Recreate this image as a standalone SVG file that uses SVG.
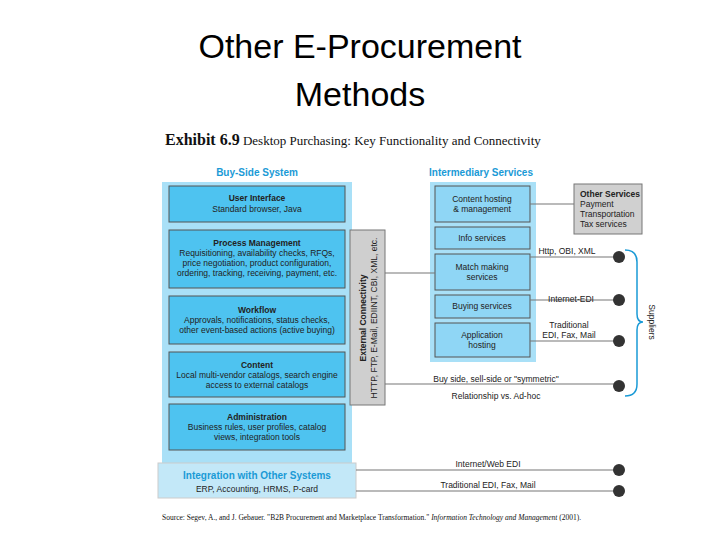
<svg xmlns="http://www.w3.org/2000/svg" width="720" height="540" viewBox="0 0 720 540">
<style>
.t{font-family:"Liberation Sans",Arial,sans-serif;font-size:8.5px;fill:#222;text-anchor:middle}
.b{font-weight:bold}
.h{font-family:"Liberation Sans",Arial,sans-serif;font-size:10px;font-weight:bold;fill:#1a9ad6;text-anchor:middle}
.box{fill:#4ec3f0;stroke:#555;stroke-width:1}
.ibox{fill:#8fd6f5;stroke:#555;stroke-width:1}
.ln{stroke:#777;stroke-width:1.2;fill:none}
.dot{fill:#333}
</style>
<rect width="720" height="540" fill="#fff"/>
<text x="360" y="58" font-family="Liberation Sans,Arial,sans-serif" font-size="34" text-anchor="middle" fill="#000">Other E-Procurement</text>
<text x="360" y="106" font-family="Liberation Sans,Arial,sans-serif" font-size="34" text-anchor="middle" fill="#000">Methods</text>
<text x="165" y="145" font-family="Liberation Serif,serif" font-size="16" fill="#111"><tspan font-weight="bold">Exhibit 6.9</tspan><tspan font-size="13"> Desktop Purchasing: Key Functionality and Connectivity</tspan></text>
<g id="buyside">
<text class="h" x="257" y="176">Buy-Side System</text>
<rect x="162" y="182" width="190" height="282" fill="#a9e0f7"/>
</g>
<g id="extconn">
<rect x="350" y="230" width="35" height="175" fill="#cfcfcf" stroke="#777"/>
<text class="t b" transform="translate(366,318) rotate(-90)">External Connectivity</text>
<text class="t" transform="translate(377,318) rotate(-90)">HTTP, FTP, E-Mail, EDIINT, CBI, XML, etc.</text>
</g>
<g id="ui"><rect class="box" x="169" y="186" width="176" height="36"/>
<text class="t b" x="257" y="201">User Interface</text><text class="t" x="257" y="212">Standard browser, Java</text></g>
<g id="pm"><rect class="box" x="169" y="230" width="176" height="58"/>
<text class="t b" x="257" y="246">Process Management</text><text class="t" x="257" y="256">Requisitioning, availability checks, RFQs,</text><text class="t" x="257" y="266">price negotiation, product configuration,</text><text class="t" x="257" y="276">ordering, tracking, receiving, payment, etc.</text></g>
<g id="wf"><rect class="box" x="169" y="296" width="176" height="48"/>
<text class="t b" x="257" y="313">Workflow</text><text class="t" x="257" y="323">Approvals, notifications, status checks,</text><text class="t" x="257" y="333">other event-based actions (active buying)</text></g>
<g id="content"><rect class="box" x="169" y="352" width="176" height="45"/>
<text class="t b" x="257" y="368">Content</text><text class="t" x="257" y="378">Local multi-vendor catalogs, search engine</text><text class="t" x="257" y="388">access to external catalogs</text></g>
<g id="admin"><rect class="box" x="169" y="404" width="176" height="46"/>
<text class="t b" x="257" y="420">Administration</text><text class="t" x="257" y="430">Business rules, user profiles, catalog</text><text class="t" x="257" y="440">views, integration tools</text></g>
<g id="integ"><rect x="158" y="463" width="198" height="35" fill="#c3e8f8" stroke="#ccc"/>
<text class="h" x="257" y="479">Integration with Other Systems</text><text class="t" x="257" y="492">ERP, Accounting, HRMS, P-card</text></g>
<g id="inter">
<text class="h" x="481" y="176">Intermediary Services</text>
<rect x="430" y="182" width="106" height="180" fill="#a9e0f7"/>
</g>
<g id="ch"><rect class="ibox" x="435" y="186" width="95" height="36"/><text class="t" x="482" y="202">Content hosting</text><text class="t" x="482" y="212">&amp; management</text></g>
<g id="info"><rect class="ibox" x="435" y="227" width="95" height="22"/><text class="t" x="482" y="241">Info services</text></g>
<g id="mm"><rect class="ibox" x="435" y="254" width="95" height="36"/><text class="t" x="482" y="270">Match making</text><text class="t" x="482" y="280">services</text></g>
<g id="bs"><rect class="ibox" x="435" y="295" width="95" height="23"/><text class="t" x="482" y="309">Buying services</text></g>
<g id="ah"><rect class="ibox" x="435" y="323" width="95" height="34"/><text class="t" x="482" y="338">Application</text><text class="t" x="482" y="348">hosting</text></g>
<g id="other"><rect x="574" y="184" width="68" height="50" fill="#d0d0d0" stroke="#777"/>
<text class="t b" x="580" y="197" text-anchor="start" style="text-anchor:start">Other Services</text>
<text class="t" x="580" y="207" style="text-anchor:start">Payment</text>
<text class="t" x="580" y="217" style="text-anchor:start">Transportation</text>
<text class="t" x="580" y="227" style="text-anchor:start">Tax services</text></g>
<g id="connectors">
<line class="ln" x1="385" y1="273" x2="435" y2="273"/>
<line class="ln" x1="530" y1="204" x2="574" y2="204"/>
<line class="ln" x1="530" y1="257" x2="618" y2="257"/>
<line class="ln" x1="530" y1="300" x2="618" y2="300"/>
<line class="ln" x1="530" y1="341" x2="618" y2="341"/>
<line class="ln" x1="385" y1="384" x2="618" y2="384"/>
<line class="ln" x1="356" y1="470" x2="618" y2="470"/>
<line class="ln" x1="356" y1="491" x2="618" y2="491"/>
<circle class="dot" cx="619" cy="257" r="6"/><circle class="dot" cx="619" cy="300" r="6"/><circle class="dot" cx="619" cy="341" r="6"/><circle class="dot" cx="619" cy="386" r="6"/><circle class="dot" cx="619" cy="470" r="6"/><circle class="dot" cx="619" cy="491" r="6"/>
<path d="M625,250 Q637,250 637,262 L637,314 Q637,322 643,322 Q637,322 637,330 L637,384 Q637,396 625,396" fill="none" stroke="#1a9ad6" stroke-width="1.5"/>
</g>
<text class="t" transform="translate(649,322) rotate(90)">Suppliers</text>
<text class="t" x="567" y="254">Http, OBI, XML</text>
<text class="t" x="571" y="302">Internet-EDI</text>
<text class="t" x="569" y="328">Traditional</text>
<text class="t" x="569" y="338">EDI, Fax, Mail</text>
<text class="t" x="496" y="382">Buy side, sell-side or "symmetric"</text>
<text class="t" x="496" y="399">Relationship vs. Ad-hoc</text>
<text class="t" x="488" y="467">Internet/Web EDI</text>
<text class="t" x="488" y="488">Traditional EDI, Fax, Mail</text>
<text x="162" y="520" font-family="Liberation Serif,serif" font-size="7.5" fill="#111">Source: Segev, A., and J. Gebauer. "B2B Procurement and Marketplace Transformation." <tspan font-style="italic">Information Technology and Management</tspan> (2001).</text>
</svg>
